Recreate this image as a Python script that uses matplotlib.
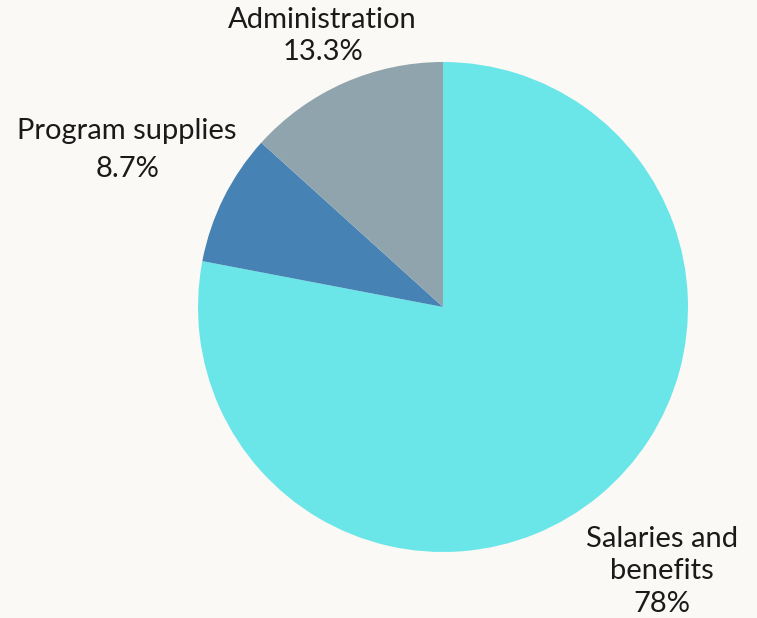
import numpy as np
import matplotlib.pyplot as plt

labels = ['Salaries and\nbenefits', 'Program supplies', 'Administration']
values = [78.0, 8.7, 13.3]
pct_text = ['78%', '8.7%', '13.3%']
colors = ['#6ae6e9', '#4682b4', '#90a4ae']
label_dist = [1.40, 1.44, 1.21]
line_sp = [1.3, 1.6, 1.25]

plt.rcParams['font.family'] = ['Lato', 'DejaVu Sans']

fig = plt.figure(figsize=(7.57, 6.18), dpi=100)
fig.patch.set_facecolor('#faf9f5')
W, H = 757, 618
cx, cy, r = 443, 307, 245
ax = fig.add_axes([(cx - r) / W, (H - cy - r) / H, 2 * r / W, 2 * r / H])
ax.set_facecolor('none')

wedges, _ = ax.pie(values, colors=colors, startangle=90, counterclock=False,
                   wedgeprops=dict(linewidth=0))
ax.set_xlim(-1, 1)
ax.set_ylim(-1, 1)
ax.set_aspect('equal')

for w, lab, pt, d, ls in zip(wedges, labels, pct_text, label_dist, line_sp):
    mid = np.deg2rad((w.theta1 + w.theta2) / 2)
    ax.text(d * np.cos(mid), d * np.sin(mid), lab + '\n' + pt,
            ha='center', va='center', fontsize=21, fontweight='normal',
            color='#1a1a1a', linespacing=ls, clip_on=False)

fig.savefig('out.png', dpi=100, facecolor=fig.get_facecolor())
